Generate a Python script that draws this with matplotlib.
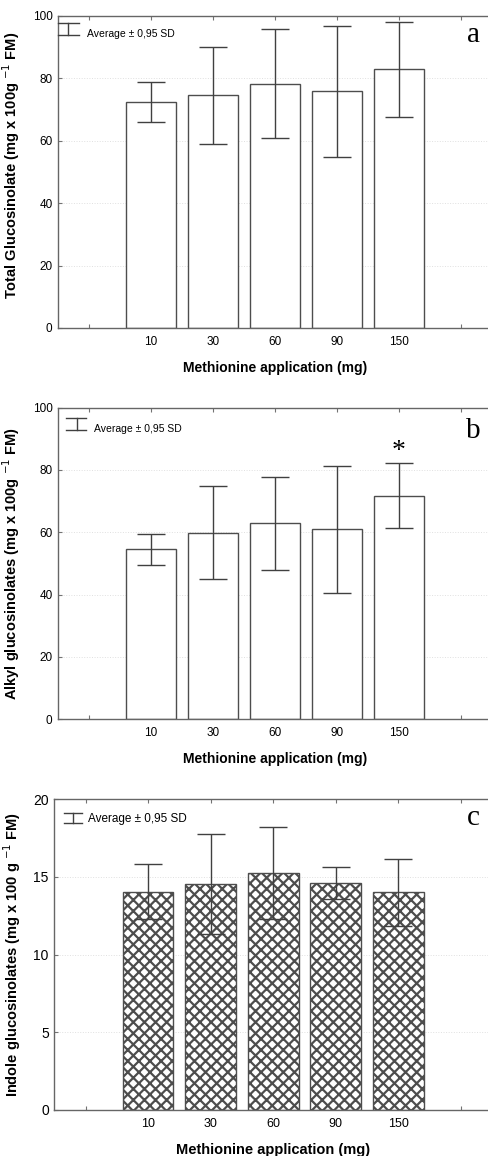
import numpy as np
import matplotlib
matplotlib.use("Agg")
from matplotlib import pyplot as plt

plt.rcParams['font.family'] = ['Liberation Sans', 'DejaVu Sans']
plt.rcParams['hatch.linewidth'] = 1.6
plt.rcParams['hatch.color'] = '0.1'

# data
doses = ['10', '30', '60', '90', '150']

total_mean = [72.3, 74.6, 78.3, 75.9, 82.9]
total_err = [6.4, 15.6, 17.5, 21.0, 15.2]

alkyl_mean = [54.5, 59.9, 62.9, 60.9, 71.8]
alkyl_err = [5.0, 15.0, 15.0, 20.5, 10.5]

indole_mean = [14.06, 14.57, 15.24, 14.61, 14.01]
indole_err = [1.77, 3.22, 2.96, 1.03, 2.16]

signif = [False, False, False, False, True]

legend_text = 'Average ± 0,95 SD'
xlabel = 'Methionine application (mg)'

fig = plt.figure(figsize=(4.88, 11.56), dpi=100)

panels = [
    # rect, mean, err, ymax, yticks, ylabel, letter, hatch, label xy, legend geometry
    ([0.1189, 0.7163, 0.889, 0.2699], total_mean, total_err, 100, np.arange(0, 101, 20),
     'Total Glucosinolate (mg x 100g $^{-1}$ FM)', 'a', None, (-0.082, 0.52),
     (0.023, 0.0, 0.048, 0.978, 0.939, 0.067, 0.942, 7.5)),
    ([0.1189, 0.3780, 0.889, 0.2693], alkyl_mean, alkyl_err, 100, np.arange(0, 101, 20),
     'Alkyl glucosinolates (mg x 100g $^{-1}$ FM)', 'b', None, (-0.082, 0.5),
     (0.044, 0.018, 0.065, 0.968, 0.928, 0.083, 0.932, 7.5)),
    ([0.1113, 0.0398, 0.897, 0.2688], indole_mean, indole_err, 20, np.arange(0, 21, 5),
     'Indole glucosinolates (mg x 100 g $^{-1}$ FM)', 'c', 'xxx', (-0.072, 0.5),
     (0.043, 0.022, 0.064, 0.956, 0.924, 0.078, 0.937, 8.5)),
]

x = np.arange(len(doses))
edge = '0.3'

for rect, mean, err, ymax, yticks, ylab, letter, hatch, lxy, lg in panels:
    ax = fig.add_axes(rect)
    ax.bar(x, mean, width=0.81, color='white', edgecolor=edge, linewidth=1.0,
           hatch=hatch, zorder=2)
    ax.errorbar(x, mean, yerr=err, fmt='none', ecolor='0.25', elinewidth=1.0,
                capsize=10, capthick=1.0, zorder=3)
    if letter == 'b':
        for i, s in enumerate(signif):
            if s:
                ax.text(x[i], mean[i] + err[i] + 3.5, '*', ha='center', va='center',
                        fontsize=20, family='Liberation Serif')
    ax.set_xlim(-1.5, 5.5)
    ax.set_ylim(0, ymax)
    ax.set_xticks(np.arange(-1, 6))
    ax.set_xticklabels([''] + doses + [''])
    ax.set_yticks(yticks)
    ax.tick_params(direction='in', top=True, right=True, length=3, width=0.8,
                   color='0.45', labelsize=9 if letter == 'c' else 8.5, pad=6)
    ax.tick_params(axis='y', labelsize=10 if letter == 'c' else 8.5, pad=4)
    for sp in ax.spines.values():
        sp.set_color('0.4')
        sp.set_linewidth(1.0)
    ax.spines['right'].set_visible(False)
    ax.yaxis.grid(True, linestyle=':', color='0.88', linewidth=0.7, zorder=0)
    ax.set_axisbelow(True)
    ax.set_ylabel(ylab, fontsize=10.5, fontweight='bold')
    ax.yaxis.set_label_coords(*lxy)
    ax.set_xlabel(xlabel, fontsize=10.5 if letter == 'c' else 10, fontweight='bold')
    ax.xaxis.set_label_coords(0.5, -0.105)

    # legend key: error bar symbol + text
    vx, c0, c1, ytop, ybot, tx, ty, tsize = lg
    kw = dict(transform=ax.transAxes, color='0.25', lw=1.0, clip_on=False, zorder=4)
    ax.plot([vx, vx], [ybot, ytop], **kw)
    ax.plot([c0, c1], [ytop, ytop], **kw)
    ax.plot([c0, c1], [ybot, ybot], **kw)
    ax.text(tx, ty, legend_text, transform=ax.transAxes, ha='left', va='center',
            fontsize=tsize)

    ax.text(0.958, 0.917 if letter != 'b' else 0.903, letter, transform=ax.transAxes,
            ha='center', va='baseline', fontsize=21, family='Liberation Serif')

fig.savefig('out.png', dpi=100)
